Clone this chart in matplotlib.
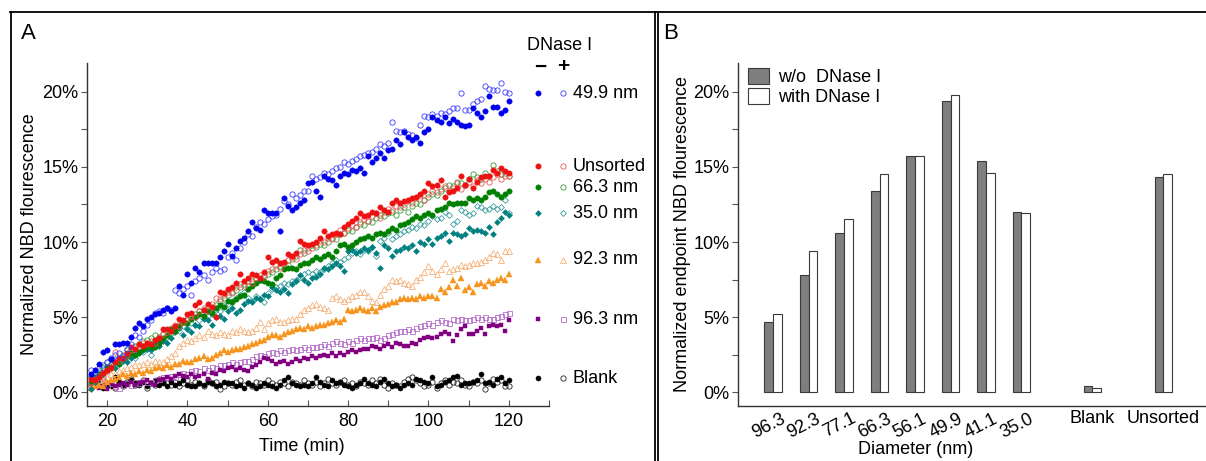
import matplotlib
matplotlib.use('Agg')
import matplotlib.pyplot as plt
from matplotlib.lines import Line2D
from matplotlib.ticker import MultipleLocator, FuncFormatter
from matplotlib.transforms import ScaledTranslation

plt.rcParams['font.family'] = ['Liberation Sans', 'DejaVu Sans']

# ---------------- data : panel A (time course, % NBD fluorescence) ----------------
time_min = list(range(16, 121))

d499_minus = [1.2, 1.5, 1.9, 2.7, 2.8, 2.2, 3.2, 3.2, 3.3, 3.3,
              3.7, 4.3, 4.6, 4.4, 4.9, 5.0, 5.2, 5.3, 5.5, 5.6,
              5.4, 5.6, 7.1, 6.5, 7.9, 7.3, 8.3, 8.0, 8.6, 8.6,
              8.6, 8.6, 9.0, 9.4, 9.9, 9.1, 9.6, 10.1, 10.3, 10.7,
              11.3, 10.9, 10.8, 12.1, 11.9, 11.9, 11.9, 10.7, 12.9, 12.4,
              12.1, 12.3, 12.6, 12.8, 13.9, 14.0, 13.4, 13.0, 14.4, 14.2,
              14.1, 13.8, 14.4, 14.6, 14.5, 14.8, 14.7, 14.9, 14.6, 15.7,
              15.3, 15.6, 15.9, 15.6, 16.1, 16.2, 16.8, 16.5, 17.3, 17.0,
              16.8, 17.0, 16.6, 17.3, 17.5, 18.3, 18.1, 18.0, 18.3, 17.9,
              18.2, 18.0, 17.8, 17.7, 17.8, 18.9, 18.6, 18.3, 18.7, 19.7,
              19.0, 19.0, 18.6, 18.8, 19.4]
d499_plus = [1.5, 1.3, 1.6, 1.8, 2.0, 2.3, 2.5, 2.6, 2.4, 2.9,
             3.2, 3.8, 3.7, 4.1, 4.5, 4.8, 5.3, 5.4, 5.3, 5.6,
             5.5, 6.8, 6.6, 6.9, 7.1, 6.5, 7.4, 7.6, 7.8, 7.5,
             8.0, 8.3, 8.1, 8.2, 9.0, 9.3, 8.8, 9.6, 10.0, 10.5,
             10.4, 11.0, 11.3, 11.2, 11.5, 11.7, 11.8, 12.2, 12.7, 12.5,
             13.2, 12.9, 13.1, 13.4, 13.4, 14.4, 14.2, 14.3, 14.6, 14.5,
             14.7, 14.9, 15.0, 15.3, 15.2, 15.4, 15.5, 15.7, 15.8, 15.9,
             16.0, 16.2, 16.5, 16.4, 16.6, 18.0, 17.4, 17.3, 17.4, 17.2,
             17.1, 16.9, 17.8, 18.4, 18.3, 18.5, 18.4, 18.6, 18.5, 18.7,
             18.9, 18.9, 19.9, 18.8, 18.8, 19.2, 19.4, 19.5, 20.4, 20.2,
             20.1, 20.1, 20.6, 20.0, 19.9]
unsorted_minus = [0.9, 0.8, 1.0, 1.3, 1.5, 1.7, 2.0, 2.3, 2.3, 2.6,
                  3.0, 2.9, 3.2, 3.1, 3.3, 3.2, 3.5, 3.6, 4.2, 4.2,
                  4.1, 4.4, 4.9, 4.8, 5.2, 5.3, 5.8, 6.0, 5.5, 5.9,
                  5.7, 5.0, 6.7, 6.6, 6.9, 7.0, 7.3, 7.9, 7.4, 7.6,
                  7.9, 7.8, 7.6, 8.0, 9.0, 8.7, 8.8, 8.6, 8.7, 9.2,
                  9.1, 9.3, 10.1, 9.9, 9.8, 9.9, 10.0, 10.3, 10.7, 10.4,
                  10.5, 10.6, 10.5, 11.0, 11.2, 11.4, 11.6, 11.9, 11.7, 11.8,
                  12.0, 11.9, 12.3, 12.1, 12.0, 12.6, 12.8, 12.6, 12.7, 12.8,
                  12.9, 13.0, 13.2, 13.4, 13.9, 13.7, 13.8, 14.1, 13.0, 13.3,
                  13.4, 13.6, 14.4, 13.8, 14.2, 13.6, 14.0, 14.3, 14.4, 14.4,
                  14.8, 14.6, 14.9, 14.7, 14.6]
unsorted_plus = [0.7, 0.9, 1.1, 1.0, 1.4, 1.6, 2.7, 2.1, 2.4, 2.5,
                 2.8, 3.0, 3.1, 3.3, 3.2, 3.4, 3.3, 3.7, 3.9, 4.0,
                 4.3, 4.5, 4.4, 4.7, 4.9, 5.1, 5.0, 5.4, 5.6, 5.4,
                 5.9, 6.3, 6.2, 6.5, 6.7, 6.6, 7.0, 7.2, 7.1, 7.4,
                 7.3, 7.6, 7.8, 7.7, 8.1, 8.2, 8.5, 8.3, 8.6, 8.8,
                 9.0, 8.9, 9.2, 9.5, 9.4, 9.6, 9.8, 10.1, 10.0, 10.3,
                 10.2, 10.5, 10.8, 10.6, 10.9, 11.1, 11.0, 11.3, 11.5, 11.4,
                 11.7, 11.9, 11.6, 12.0, 12.2, 12.1, 12.4, 12.3, 12.5, 12.7,
                 12.6, 12.9, 13.1, 12.8, 13.2, 13.4, 13.3, 13.5, 13.7, 13.4,
                 13.6, 13.9, 13.5, 13.8, 14.0, 13.7, 14.1, 13.9, 14.2, 14.0,
                 14.3, 14.5, 14.2, 14.4, 14.4]
d663_minus = [0.7, 1.0, 1.2, 1.3, 1.7, 1.6, 2.0, 1.9, 2.3, 2.4,
              2.6, 2.5, 2.7, 2.9, 3.1, 3.0, 3.0, 3.3, 3.6, 3.8,
              4.2, 4.1, 4.4, 4.7, 4.6, 4.9, 5.0, 5.2, 5.1, 5.4,
              5.3, 5.6, 5.8, 5.7, 6.1, 6.0, 6.2, 6.4, 6.5, 6.9,
              7.1, 7.3, 7.5, 7.4, 7.3, 7.2, 7.6, 7.8, 8.2, 8.3,
              8.3, 8.2, 8.5, 8.6, 8.6, 8.8, 9.0, 8.9, 9.1, 9.2,
              9.0, 9.4, 9.8, 9.9, 9.7, 9.8, 10.0, 10.2, 10.3, 10.4,
              10.3, 10.5, 10.6, 10.5, 10.7, 10.9, 10.8, 11.1, 11.2, 11.3,
              11.5, 11.7, 11.6, 11.8, 11.9, 11.8, 12.1, 12.2, 12.3, 12.6,
              12.5, 12.6, 12.6, 12.6, 12.9, 12.8, 12.9, 12.8, 13.0, 13.3,
              13.4, 13.2, 13.0, 13.2, 13.4]
d663_plus = [1.0, 1.2, 1.4, 1.7, 1.5, 1.9, 2.2, 2.3, 2.5, 2.8,
             2.9, 3.1, 3.2, 3.4, 3.5, 3.6, 3.8, 3.7, 3.9, 4.1,
             4.0, 4.3, 4.5, 4.7, 4.8, 5.0, 5.2, 5.4, 5.5, 5.7,
             5.6, 5.8, 6.1, 6.3, 6.5, 6.7, 6.8, 7.0, 7.2, 7.1,
             7.4, 7.6, 7.5, 7.8, 7.9, 8.0, 8.2, 8.4, 8.6, 8.5,
             8.9, 9.1, 9.5, 9.3, 9.6, 9.8, 9.7, 9.9, 9.8, 10.0,
             10.3, 10.2, 10.5, 10.6, 10.8, 10.7, 11.0, 11.2, 11.1, 11.4,
             11.3, 11.6, 11.8, 11.7, 11.9, 12.0, 11.8, 12.1, 12.3, 12.0,
             12.4, 12.6, 12.5, 12.8, 13.0, 13.2, 13.1, 13.4, 13.6, 13.8,
             13.7, 14.0, 13.9, 13.8, 14.2, 14.5, 14.3, 14.2, 14.6, 14.4,
             15.1, 14.7, 14.5, 14.6, 14.4]
d350_minus = [0.2, 0.7, 1.0, 1.2, 1.5, 1.7, 1.6, 1.9, 2.1, 2.0,
              2.3, 2.5, 2.6, 2.8, 2.9, 2.8, 3.2, 3.1, 3.4, 3.3,
              3.6, 4.0, 4.3, 3.8, 4.2, 4.0, 4.5, 4.4, 4.9, 4.8,
              4.5, 5.0, 5.1, 4.9, 5.4, 5.6, 5.3, 5.5, 5.9, 6.1,
              6.0, 6.3, 6.2, 6.5, 6.4, 7.0, 6.8, 6.7, 6.9, 6.6,
              7.2, 7.4, 7.8, 7.5, 7.3, 7.6, 7.7, 7.9, 8.3, 8.2,
              8.4, 8.6, 8.4, 8.1, 9.4, 9.5, 9.3, 9.4, 9.6, 9.5,
              9.7, 9.3, 8.3, 9.8, 9.6, 9.1, 9.4, 9.5, 9.7, 9.6,
              9.8, 9.4, 10.0, 9.9, 10.2, 9.9, 10.3, 10.4, 10.6, 10.1,
              10.6, 10.5, 10.4, 10.5, 10.9, 10.7, 10.8, 10.7, 10.6, 11.0,
              10.5, 11.3, 11.6, 12.0, 11.8]
d350_plus = [1.1, 1.3, 1.2, 1.6, 2.0, 1.8, 2.0, 2.1, 2.2, 2.4,
             2.5, 2.3, 2.6, 2.7, 2.9, 2.5, 3.1, 3.3, 3.5, 3.7,
             3.9, 4.2, 4.1, 4.4, 4.3, 4.6, 4.5, 4.8, 5.0, 5.1,
             5.2, 5.5, 5.4, 5.8, 5.9, 6.1, 6.3, 6.5, 6.7, 6.3,
             6.1, 6.4, 6.2, 6.0, 6.6, 6.9, 7.0, 7.1, 7.3, 7.2,
             7.4, 7.5, 7.7, 7.9, 8.0, 7.9, 8.1, 8.0, 8.2, 8.4,
             8.6, 8.8, 8.7, 8.9, 9.0, 9.3, 9.4, 9.2, 9.5, 9.4,
             9.7, 9.1, 10.1, 10.3, 10.6, 10.2, 10.4, 10.5, 10.7, 10.8,
             11.0, 10.9, 11.2, 11.1, 11.4, 11.7, 11.5, 11.6, 12.0, 11.8,
             11.2, 11.4, 12.1, 12.0, 11.8, 11.9, 12.4, 12.3, 12.1, 12.2,
             12.4, 12.2, 12.3, 12.8, 11.9]
d923_minus = [0.3, 0.4, 0.5, 0.4, 0.7, 0.8, 0.9, 1.0, 1.2, 1.1,
              1.3, 1.2, 1.4, 1.3, 1.5, 1.4, 1.6, 1.7, 1.6, 1.8,
              1.7, 1.9, 1.9, 2.1, 2.0, 2.0, 2.2, 2.3, 2.4, 2.2,
              2.3, 2.5, 2.6, 2.8, 2.7, 2.8, 2.9, 2.9, 3.0, 3.1,
              3.2, 3.3, 3.4, 3.5, 3.7, 3.8, 3.8, 3.7, 3.9, 4.0,
              4.1, 4.2, 4.3, 4.2, 4.4, 4.3, 4.4, 4.5, 4.5, 4.6,
              4.7, 4.8, 4.7, 4.9, 5.5, 5.4, 5.5, 5.6, 5.5, 5.4,
              5.6, 5.4, 5.7, 5.8, 5.9, 6.0, 6.0, 6.2, 6.3, 6.2,
              6.3, 6.2, 6.4, 6.3, 6.4, 6.4, 6.3, 6.9, 6.7, 7.0,
              7.5, 7.1, 7.6, 6.8, 7.0, 6.7, 7.2, 7.3, 7.1, 7.4,
              7.3, 7.5, 7.6, 7.5, 7.9]
d923_plus = [0.6, 0.7, 0.8, 0.9, 1.0, 1.2, 1.3, 1.4, 1.5, 1.6,
             1.7, 1.8, 1.8, 1.9, 2.0, 1.9, 2.1, 2.0, 2.0, 2.2,
             2.4, 2.6, 3.1, 3.3, 3.5, 3.4, 3.6, 3.8, 3.7, 4.1,
             3.9, 3.8, 4.0, 3.9, 3.8, 4.1, 4.0, 4.2, 4.1, 4.0,
             4.1, 4.3, 4.7, 4.2, 4.6, 4.8, 4.9, 4.7, 4.7, 4.8,
             4.9, 4.9, 5.2, 5.5, 5.6, 5.8, 5.9, 5.7, 5.6, 5.5,
             6.3, 6.4, 6.2, 6.1, 6.2, 6.4, 6.5, 6.7, 6.7, 6.4,
             6.1, 6.0, 6.5, 6.9, 7.1, 7.5, 7.4, 7.5, 7.3, 7.2,
             7.1, 7.5, 7.7, 8.0, 8.4, 8.1, 7.9, 8.2, 8.6, 8.1,
             8.2, 8.3, 8.5, 8.4, 8.5, 8.6, 8.6, 8.7, 8.8, 9.0,
             9.3, 9.2, 8.8, 9.4, 9.4]
d963_minus = [0.4, 0.5, 0.3, 0.5, 0.2, 0.6, 0.4, 0.5, 0.6, 0.5,
              0.7, 0.5, 0.6, 0.7, 0.8, 0.6, 0.5, 0.8, 0.9, 1.0,
              0.9, 1.1, 1.2, 1.1, 1.0, 1.2, 1.0, 1.1, 1.2, 0.9,
              1.3, 1.2, 1.5, 1.4, 1.6, 1.7, 1.5, 1.6, 1.5, 1.4,
              1.7, 1.8, 2.0, 2.3, 2.2, 2.1, 1.9, 2.0, 2.1, 1.9,
              2.0, 2.2, 2.1, 2.3, 2.2, 2.4, 2.3, 2.4, 2.5, 2.4,
              2.6, 2.4, 2.6, 2.5, 2.7, 2.8, 2.7, 2.8, 2.9, 2.9,
              3.1, 3.0, 2.9, 3.1, 3.2, 3.0, 3.3, 3.2, 3.1, 3.1,
              3.3, 3.2, 3.5, 3.6, 3.7, 3.6, 3.7, 3.9, 4.0, 3.9,
              3.4, 3.8, 4.2, 4.4, 3.9, 3.9, 4.1, 4.3, 3.9, 4.4,
              4.5, 4.4, 4.5, 4.1, 4.8]
d963_plus = [0.9, 0.8, 0.7, 0.6, 0.5, 0.6, 0.4, 0.3, 0.5, 0.6,
             0.5, 0.7, 0.6, 0.8, 0.7, 0.7, 0.8, 0.9, 1.0, 1.0,
             1.1, 1.0, 1.2, 1.3, 1.2, 1.4, 1.5, 1.4, 1.6, 1.5,
             1.7, 1.6, 1.8, 1.8, 1.9, 2.0, 1.9, 2.0, 2.1, 2.1,
             2.2, 2.4, 2.5, 2.4, 2.6, 2.7, 2.6, 2.8, 2.7, 2.8,
             2.9, 2.8, 2.9, 3.0, 2.9, 3.0, 3.0, 3.1, 3.2, 3.1,
             3.3, 3.4, 3.3, 3.2, 3.4, 3.3, 3.5, 3.6, 3.5, 3.6,
             3.6, 3.7, 3.5, 3.6, 3.8, 3.9, 4.0, 4.1, 4.1, 4.2,
             4.1, 4.3, 4.4, 4.5, 4.6, 4.5, 4.7, 4.8, 4.7, 4.6,
             4.9, 4.8, 4.9, 4.8, 4.8, 4.9, 5.0, 4.9, 5.0, 4.9,
             4.9, 5.0, 5.1, 5.2, 5.3]
blank_minus = [0.4, 0.5, 0.6, 0.3, 0.5, 0.4, 1.0, 0.7, 0.5, 0.6,
               0.8, 0.6, 0.5, 0.7, 0.4, 0.6, 0.8, 0.5, 0.6, 0.4,
               0.7, 0.5, 0.6, 0.8, 0.5, 0.4, 0.4, 0.6, 0.5, 0.7,
               0.6, 0.4, 0.5, 0.7, 0.6, 0.6, 0.4, 0.5, 0.3, 0.6,
               0.5, 0.3, 0.4, 0.6, 0.5, 0.4, 0.3, 0.5, 0.8, 1.0,
               0.6, 0.5, 0.4, 0.5, 0.4, 0.6, 1.0, 0.7, 0.5, 0.4,
               0.8, 0.6, 0.7, 0.5, 0.4, 0.3, 0.5, 0.6, 0.9, 0.6,
               0.5, 0.4, 0.7, 0.9, 0.6, 0.4, 0.5, 0.3, 0.5, 0.6,
               0.5, 0.9, 0.8, 0.7, 0.6, 1.0, 0.4, 0.5, 0.7, 0.8,
               1.0, 1.1, 0.5, 0.6, 0.6, 0.7, 0.8, 1.2, 0.6, 0.7,
               0.5, 0.9, 1.0, 0.6, 0.8]
blank_plus = [0.5, 0.7, 0.4, 0.8, 0.6, 0.5, 0.3, 0.6, 0.4, 0.7,
              0.9, 0.5, 0.6, 0.8, 0.3, 0.6, 0.5, 0.9, 0.7, 0.6,
              0.5, 0.7, 0.4, 0.6, 0.8, 0.5, 0.7, 0.6, 0.4, 0.8,
              0.6, 0.7, 0.2, 0.4, 0.6, 0.5, 0.7, 0.8, 0.5, 0.6,
              0.4, 0.7, 0.6, 0.5, 0.8, 0.6, 0.5, 0.7, 0.6, 0.4,
              0.7, 0.6, 0.5, 0.8, 0.6, 0.5, 0.7, 0.4, 0.6, 0.9,
              0.6, 0.5, 0.7, 0.8, 0.5, 0.6, 0.4, 0.7, 0.6, 0.5,
              0.8, 0.6, 0.9, 0.5, 0.3, 0.6, 0.5, 0.4, 0.7, 0.9,
              1.0, 0.8, 0.6, 0.4, 0.5, 0.7, 0.3, 0.6, 0.8, 0.5,
              0.7, 0.6, 0.8, 0.5, 0.4, 0.7, 0.6, 0.8, 0.2, 0.6,
              0.9, 0.7, 0.8, 0.4, 0.4]

# ---------------- data : panel B (endpoint, %) ----------------
diam_labels = ['96.3', '92.3', '77.1', '66.3', '56.1', '49.9', '41.1', '35.0', 'Blank', 'Unsorted']
endpoint_without = [4.7, 7.8, 10.6, 13.4, 15.7, 19.4, 15.4, 12.0, 0.4, 14.3]
endpoint_with = [5.2, 9.4, 11.5, 14.5, 15.7, 19.8, 14.6, 11.9, 0.3, 14.5]
bar_positions = [0, 1, 2, 3, 4, 5, 6, 7, 9, 11]

# ---------------- figure ----------------
W, H = 1206, 461
fig = plt.figure(figsize=(W / 100, H / 100), dpi=100)


def fx(px):
    return px / W


def fy(py):
    return 1 - py / H


FS = 13
pct = FuncFormatter(lambda v, p: f'{v:.0f}%')

# frame lines
for (x0, y0, x1, y1) in [(10, 12, 1206, 12), (11, 12, 11, 461), (655, 12, 655, 461), (658, 12, 658, 461)]:
    fig.add_artist(Line2D([fx(x0), fx(x1)], [fy(y0), fy(y1)], transform=fig.transFigure,
                          color='black', lw=1.3))

# ---------------- panel A ----------------
axA = fig.add_axes([fx(87), fy(406), fx(549) - fx(87), fy(63) - fy(406)])
series = [
    ('Blank', blank_minus, blank_plus, 'o', '#000000', '#222222', 3.7, 3.8),
    ('96.3 nm', d963_minus, d963_plus, 's', '#800080', '#b46ec8', 3.5, 3.6),
    ('92.3 nm', d923_minus, d923_plus, '^', '#f7941d', '#f5b27a', 4.4, 4.8),
    ('35.0 nm', d350_minus, d350_plus, 'D', '#008080', '#3a9e9e', 3.1, 3.0),
    ('66.3 nm', d663_minus, d663_plus, 'o', '#008000', '#3a9a3a', 3.9, 3.8),
    ('Unsorted', unsorted_minus, unsorted_plus, 'o', '#ee1111', '#ee5555', 3.9, 3.8),
    ('49.9 nm', d499_minus, d499_plus, 'o', '#0000ee', '#3c3cff', 3.9, 3.8),
]
for name, minus, plus, mk, cf, co, msf, mso in series:
    assert len(minus) == len(time_min) and len(plus) == len(time_min), name
    axA.plot(time_min, plus, ls='none', marker=mk, ms=mso, mfc='none', mec=co, mew=0.6)
    axA.plot(time_min, minus, ls='none', marker=mk, ms=msf, mfc=cf, mec=cf, mew=0.3)

axA.set_xlim(15, 130)
axA.set_ylim(-0.93, 21.93)
axA.spines['top'].set_visible(False)
axA.spines['right'].set_visible(False)
for s in ('left', 'bottom'):
    axA.spines[s].set_color('#333333')
    axA.spines[s].set_linewidth(1.0)
axA.xaxis.set_major_locator(MultipleLocator(20))
axA.xaxis.set_minor_locator(MultipleLocator(10))
axA.yaxis.set_major_locator(MultipleLocator(5))
axA.yaxis.set_minor_locator(MultipleLocator(2.5))
axA.yaxis.set_major_formatter(pct)
axA.tick_params(axis='x', which='both', direction='in', length=4.5, width=0.8, color='#555555',
                labelsize=FS, pad=5)
axA.tick_params(axis='y', which='both', direction='out', length=4.5, width=0.8, color='#555555',
                labelsize=FS, pad=1.5)
axA.set_xlabel('Time (min)', fontsize=FS)
axA.xaxis.set_label_coords((302 - 87) / 462, (406 - 438) / 343)
axA.set_ylabel('Normalized NBD flourescence', fontsize=FS, labelpad=3)
fig.text(fx(21), fy(33), 'A', fontsize=16, ha='left', va='center')

# legend of panel A (built by hand)
fig.text(fx(527), fy(46), 'DNase I', fontsize=FS, ha='left', va='center')
fig.text(fx(540), fy(67), '−', fontsize=15, ha='center', va='center', fontweight='bold')
fig.text(fx(563), fy(67), '+', fontsize=15, ha='center', va='center', fontweight='bold')
legend_rows = {'49.9 nm': 93, 'Unsorted': 166, '66.3 nm': 187, '35.0 nm': 213,
               '92.3 nm': 260, '96.3 nm': 319, 'Blank': 378}
for name, minus, plus, mk, cf, co, msf, mso in series:
    ry = legend_rows[name]
    fig.add_artist(Line2D([fx(538)], [fy(ry)], transform=fig.transFigure, ls='none', marker=mk,
                          ms=msf, mfc=cf, mec=cf, mew=0.3))
    fig.add_artist(Line2D([fx(563)], [fy(ry)], transform=fig.transFigure, ls='none', marker=mk,
                          ms=mso, mfc='none', mec=co, mew=0.6))
    fig.text(fx(573), fy(ry), name, fontsize=FS, ha='left', va='center')

# ---------------- panel B ----------------
axB = fig.add_axes([fx(738), fy(406), fx(1206) - fx(738), fy(63) - fy(406)])
bw = 0.25
b1 = axB.bar([p - bw / 2 for p in bar_positions], endpoint_without, width=bw,
             color='#7f7f7f', edgecolor='#3a3a3a', linewidth=0.8, label='w/o  DNase I')
b2 = axB.bar([p + bw / 2 for p in bar_positions], endpoint_with, width=bw,
             color='white', edgecolor='#3a3a3a', linewidth=0.8, label='with DNase I')
axB.set_xlim(-0.99, 12.2)
axB.set_ylim(-0.93, 21.93)
axB.spines['top'].set_visible(False)
axB.spines['right'].set_visible(False)
for s in ('left', 'bottom'):
    axB.spines[s].set_color('#333333')
    axB.spines[s].set_linewidth(1.0)
axB.yaxis.set_major_locator(MultipleLocator(5))
axB.yaxis.set_minor_locator(MultipleLocator(2.5))
axB.yaxis.set_major_formatter(pct)
axB.tick_params(axis='y', which='both', direction='out', length=4.5, width=0.8, color='#555555',
                labelsize=FS, pad=1.5)
axB.set_xticks(bar_positions)
axB.set_xticklabels(diam_labels, fontsize=FS)
axB.tick_params(axis='x', length=0, pad=3)
shift = ScaledTranslation(7 / 100, 0, fig.dpi_scale_trans)
for lab in axB.get_xticklabels():
    if lab.get_text() not in ('Blank', 'Unsorted'):
        lab.set_rotation(27)
        lab.set_ha('right')
        lab.set_va('top')
        lab.set_rotation_mode('anchor')
        lab.set_transform(lab.get_transform() + shift)
    else:
        lab.set_va('top')
axB.set_xlabel('Diameter (nm)', fontsize=FS)
axB.xaxis.set_label_coords((916 - 738) / 468, (406 - 441) / 343)
axB.set_ylabel('Normalized endpoint NBD flourescence', fontsize=FS, labelpad=2)
axB.legend(loc='upper left', bbox_to_anchor=(fx(748), fy(68)), bbox_transform=fig.transFigure,
           frameon=False, fontsize=FS, handlelength=1.15, handleheight=1.0, labelspacing=0.1,
           handletextpad=0.5, borderaxespad=0, borderpad=0)
fig.text(fx(663), fy(33), 'B', fontsize=16, ha='left', va='center')

fig.savefig('out.png', dpi=100)
